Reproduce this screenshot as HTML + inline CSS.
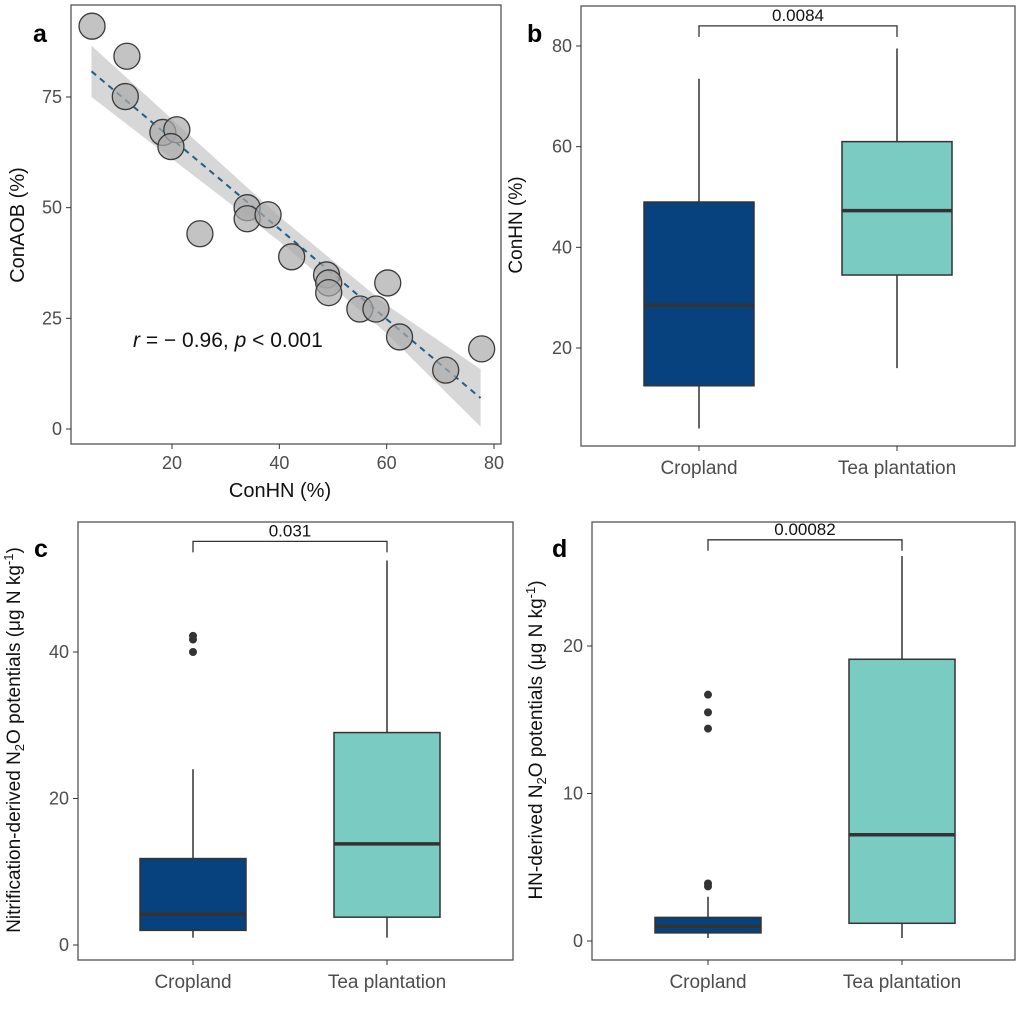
<!DOCTYPE html>
<html><head><meta charset="utf-8">
<style>
html,body{margin:0;padding:0;background:#fff;}
svg{display:block;font-family:"Liberation Sans",sans-serif;}
</style></head>
<body>
<svg id="fig" width="1019" height="1009" viewBox="0 0 1019 1009"></svg>
<script>
// Panel a data
const scatterX = [5.1,11.6,11.3,18.3,20.9,19.8,25.2,34,34,37.9,42.3,48.8,49.2,49.2,55,58,60.2,62.4,71,77.7];
const scatterY = [91,84.2,75.1,67,67.6,63.8,44.1,50,47.5,48.4,38.9,34.8,33,30.8,27.1,27.1,33,20.8,13.3,18.1];
const fitX = [5,20,40,60,77.5];
const fitY = [80.8,65.5,45.2,24.8,7];
const fitLo = [75,61,42.4,21.6,0.5];
const fitHi = [86.6,70,48,28,13.5];
const aXTicks = [20,40,60,80];
const aYTicks = [0,25,50,75];
// Boxplot panels: [lowerWhisker, Q1, median, Q3, upperWhisker]
const categories = ["Cropland","Tea plantation"];
const bStats = [[4,12.5,28.5,49,73.5],[16,34.5,47.3,61,79.5]];
const bOutliers = [[],[]];
const bTicks = [20,40,60,80];
const cStats = [[1,2,4.2,11.8,24],[1,3.8,13.8,29,52.5]];
const cOutliers = [[40,41.7,42.2],[]];
const cTicks = [0,20,40];
const dStats = [[0.2,0.55,1.0,1.6,3.0],[0.2,1.2,7.2,19.1,26.1]];
const dOutliers = [[3.7,3.9,14.4,15.5,16.7],[]];
const dTicks = [0,10,20];
const pLabels = ["0.0084","0.031","0.00082"];
const bracketVals = [84,55.1,27.2];
const colors = ["#08427e","#7accc3"];

const NS="http://www.w3.org/2000/svg";
const svg=document.getElementById('fig');
function mk(tag,attrs,parent,name,txt){
  const e=document.createElementNS(NS,tag);
  for(const k in attrs)e.setAttribute(k,attrs[k]);
  
  
  if(txt!==undefined)e.textContent=txt;
  (parent||svg).appendChild(e);return e;
}
function lin(d0,d1,r0,r1){return v=>r0+(v-d0)*(r1-r0)/(d1-d0);}

// ---------- Panel a ----------
const ga=mk('g',{},svg,'panel-a');
const ax=lin(20,80,172,494), ay=lin(0,75,429,97);
let bandPts=fitX.map((x,i)=>ax(x)+','+ay(fitHi[i])).concat(fitX.map((x,i)=>ax(x)+','+ay(fitLo[i])).reverse());
mk('polygon',{points:bandPts.join(' '),fill:'#d3d3d3','fill-opacity':0.9},ga,'confidence-band');
mk('polyline',{points:fitX.map((x,i)=>ax(x)+','+ay(fitY[i])).join(' '),fill:'none',stroke:'#1f5f8b','stroke-width':2,'stroke-dasharray':'6,5'},ga,'regression-line');
scatterX.forEach((x,i)=>{
  mk('circle',{cx:ax(x),cy:ay(scatterY[i]),r:13,fill:'#a9a9a9','fill-opacity':0.7,stroke:'#3a3a3a','stroke-width':1.3},ga,'scatter-point');
});
mk('rect',{x:71,y:5,width:430,height:439,fill:'none',stroke:'#555','stroke-width':1.3},ga,'panel-a-border');
aXTicks.forEach(t=>{
  mk('line',{x1:ax(t),x2:ax(t),y1:444,y2:449,stroke:'#333'},ga,'x-tick');
  mk('text',{x:ax(t),y:469,'text-anchor':'middle','font-size':18,fill:'#4d4d4d'},ga,'x-tick-label',t);
});
aYTicks.forEach(t=>{
  mk('line',{x1:66,x2:71,y1:ay(t),y2:ay(t),stroke:'#333'},ga,'y-tick');
  mk('text',{x:62,y:ay(t)+6,'text-anchor':'end','font-size':18,fill:'#4d4d4d'},ga,'y-tick-label',t);
});
mk('text',{x:280,y:497,'text-anchor':'middle','font-size':20,fill:'#111'},ga,'x-axis-title','ConHN (%)');
mk('text',{x:24,y:225,'text-anchor':'middle','font-size':20,fill:'#111',transform:'rotate(-90 24 225)'},ga,'y-axis-title','ConAOB (%)');
const ann=mk('text',{x:133,y:347,'font-size':21,fill:'#111'},ga,'correlation-annotation');
ann.innerHTML='<tspan font-style="italic">r</tspan> = − 0.96, <tspan font-style="italic">p</tspan> &lt; 0.001';
mk('text',{x:33,y:42,'font-size':25,'font-weight':'bold',fill:'#000'},ga,'panel-label-a','a');

// ---------- Box panels ----------
function boxPanel(cfg){
  const g=mk('g',{},svg,cfg.name);
  const y=lin(cfg.t0,cfg.t1,cfg.y0,cfg.y1);
  const xs=cfg.xs, hw=cfg.hw;
  cfg.stats.forEach((s,i)=>{
    const cx=xs[i];
    mk('line',{x1:cx,x2:cx,y1:y(s[0]),y2:y(s[1]),stroke:'#333','stroke-width':1.5},g,'lower-whisker');
    mk('line',{x1:cx,x2:cx,y1:y(s[3]),y2:y(s[4]),stroke:'#333','stroke-width':1.5},g,'upper-whisker');
    mk('rect',{x:cx-hw,y:y(s[3]),width:2*hw,height:y(s[1])-y(s[3]),fill:colors[i],stroke:'#333','stroke-width':1.5},g,'box-'+categories[i].toLowerCase().replace(' ','-'));
    mk('line',{x1:cx-hw,x2:cx+hw,y1:y(s[2]),y2:y(s[2]),stroke:'#333','stroke-width':3.5},g,'median-line');
    cfg.out[i].forEach(o=>mk('circle',{cx:cx,cy:y(o),r:4,fill:'#333'},g,'outlier-point'));
  });
  mk('rect',{x:cfg.L,y:cfg.T,width:cfg.R-cfg.L,height:cfg.B-cfg.T,fill:'none',stroke:'#555','stroke-width':1.3},g,'panel-border');
  cfg.ticks.forEach(t=>{
    mk('line',{x1:cfg.L-5,x2:cfg.L,y1:y(t),y2:y(t),stroke:'#333'},g,'y-tick');
    mk('text',{x:cfg.L-9,y:y(t)+6,'text-anchor':'end','font-size':18,fill:'#4d4d4d'},g,'y-tick-label',t);
  });
  categories.forEach((c,i)=>{
    mk('line',{x1:xs[i],x2:xs[i],y1:cfg.B,y2:cfg.B+5,stroke:'#333'},g,'x-tick');
    mk('text',{x:xs[i],y:cfg.B+28,'text-anchor':'middle','font-size':19,fill:'#4d4d4d'},g,'x-tick-label',c);
  });
  const by=y(cfg.br);
  mk('polyline',{points:`${xs[0]},${by+11} ${xs[0]},${by} ${xs[1]},${by} ${xs[1]},${by+11}`,fill:'none',stroke:'#333','stroke-width':1.3},g,'significance-bracket');
  mk('text',{x:(xs[0]+xs[1])/2,y:by-5,'text-anchor':'middle','font-size':17,fill:'#111'},g,'p-value-label',cfg.p);
  const yt=mk('text',{x:cfg.ytx,y:cfg.yty,'text-anchor':'middle','font-size':19,fill:'#111',transform:`rotate(-90 ${cfg.ytx} ${cfg.yty})`},g,'y-axis-title');
  yt.innerHTML=cfg.ytitle;
  mk('text',{x:cfg.lx,y:cfg.ly,'font-size':25,'font-weight':'bold',fill:'#000'},g,'panel-label-'+cfg.label,cfg.label);
}
boxPanel({name:'panel-b',stats:bStats,out:bOutliers,ticks:bTicks,t0:20,t1:80,y0:348,y1:46,xs:[699,897],hw:55,
  L:581,R:1015,T:6,B:446,br:bracketVals[0],p:pLabels[0],ytx:522,yty:225,ytitle:'ConHN (%)',label:'b',lx:527,ly:42});
boxPanel({name:'panel-c',stats:cStats,out:cOutliers,ticks:cTicks,t0:0,t1:40,y0:945,y1:652,xs:[193,387],hw:53,
  L:78,R:513,T:522,B:960,br:bracketVals[1],p:pLabels[1],ytx:20,yty:740,
  ytitle:'Nitrification-derived N<tspan font-size="13" dy="4">2</tspan><tspan dy="-4">O potentials (μg N kg</tspan><tspan font-size="13" dy="-7">-1</tspan><tspan dy="7">)</tspan>',label:'c',lx:34,ly:557});
boxPanel({name:'panel-d',stats:dStats,out:dOutliers,ticks:dTicks,t0:0,t1:20,y0:941,y1:646,xs:[708,902],hw:53,
  L:592,R:1015,T:522,B:960,br:bracketVals[2],p:pLabels[2],ytx:542,yty:740,
  ytitle:'HN-derived N<tspan font-size="13" dy="4">2</tspan><tspan dy="-4">O potentials (μg N kg</tspan><tspan font-size="13" dy="-7">-1</tspan><tspan dy="7">)</tspan>',label:'d',lx:552,ly:557});
</script>
</body></html>
